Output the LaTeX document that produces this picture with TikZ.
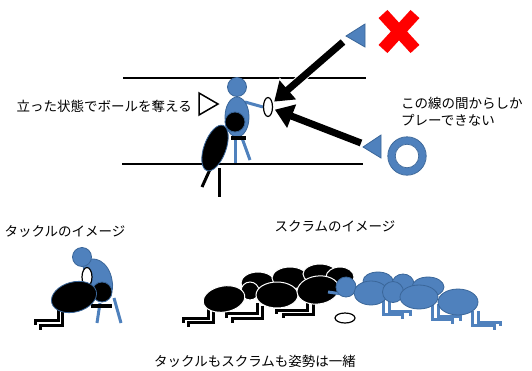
\documentclass[tikz,border=0pt]{standalone}
\usepackage{fontspec}
\newfontfamily\jp{Noto Sans CJK JP}
\usepackage{tikz}
\usetikzlibrary{arrows.meta,shapes.geometric,positioning}

\definecolor{pblue}{HTML}{4F81BD}
\definecolor{pedge}{HTML}{3A6699}

\tikzset{
  jptext/.style={font=\jp\fontsize{13.5}{17}\selectfont, inner sep=0pt},
  bluebody/.style={fill=pblue, draw=pedge, line width=0.8pt},
  blackbody/.style={fill=black, draw=white, line width=1pt},
  bluelimb/.style={draw=pblue, line width=3pt},
  blacklimb/.style={draw=black, line width=3pt, preaction={draw=white, line width=5pt}},
  bigarrow/.style={draw=black, line width=7pt, shorten >=2pt,
    -{Triangle[length=18pt 0 0,width=24pt 0 0]}},
  ballshape/.style={ellipse, draw=black, fill=white, line width=1.2pt, inner sep=0pt}
}

\begin{document}
\begin{tikzpicture}[x=1pt, y=-1pt]
    \useasboundingbox (0,0) rectangle (532,370);

    % the two touch lines
    \draw[line width=1.2pt] (123,78) -- (366,78);
    \draw[line width=1.2pt] (122,164) -- (363,164);

    % the texts
    \node[jptext, anchor=east] (standing) at (192,106) {立った状態でボールを奪える};
    \node[jptext, anchor=west, align=left] (between) at (401,112) {この線の間からしか\\プレーできない};
    \node[jptext] (tackletitle) at (65,232) {タックルのイメージ};
    \node[jptext] (scrumtitle) at (335,226) {スクラムのイメージ};
    \node[jptext] (same) at (255,361) {タックルもスクラムも姿勢は一緒};

    % pointer in front of the text
    \draw[line width=1.5pt, fill=white] (199,93) -- (199,115) -- (218,104) -- cycle;

    % standing player with the ball
    \draw[bluelimb] (235,140) -- (235,163);
    \draw[bluelimb] (242,138) -- (250,160);
    \draw[bluelimb] (245,102) -- (263,107);
    \filldraw[bluebody] (237,87) circle (9.5);
    \filldraw[bluebody] (237,117) ellipse [x radius=12, y radius=20];
    \node[ballshape, minimum width=9pt, minimum height=19pt] (ball) at (268,107) {};

    % the tackler
    \draw[black, line width=3.5pt] (231,138) -- (246,138);
    \filldraw[fill=black, draw=pedge, line width=0.8pt] (235,122) circle (10);
    \draw[black, line width=3pt] (212,165) -- (202,187);
    \draw[black, line width=3pt] (219,168) -- (219,197);
    \filldraw[fill=black, draw=pedge, line width=0.8pt, rotate around={-20:(215,148)}]
        (215,148) ellipse [x radius=11, y radius=24];

    % wrong and right way in
    \filldraw[bluebody] (365,24) -- (365,47) -- (346,36) -- cycle;
    \filldraw[bluebody] (381,135) -- (381,158) -- (363,147) -- cycle;
    \coordinate (wrong) at (343,42);
    \coordinate (right) at (361,143);
    \draw[bigarrow, preaction={draw=white, line width=9pt, shorten >=1pt,
        -{Triangle[length=21pt 0 0,width=28pt 0 0]}}] (wrong) -- (ball);
    \draw[bigarrow, preaction={draw=white, line width=9pt, shorten >=1pt,
        -{Triangle[length=21pt 0 0,width=28pt 0 0]}}] (right) -- (ball);
    \draw[red, line width=12pt] (383,14) -- (415,49) (415,14) -- (383,49);
    \draw[pblue, line width=7pt] (407,156) circle (15.5);
    \draw[pedge, line width=0.8pt] (407,156) circle (19.2) (407,156) circle (11.8);

    % tackle picture
    \draw[blacklimb] (58,306) -- (58,320) -- (35,320) -- (35,325);
    \draw[blacklimb] (62,309) -- (62,325) -- (40,325) -- (40,330);
    \draw[bluelimb] (100,303) -- (97,323);
    \draw[bluelimb] (114,298) -- (121,323);
    \filldraw[bluebody] (82,263) .. controls (94,253) and (109,262) .. (112,280)
        .. controls (115,294) and (107,302) .. (98,299) -- (87,281) -- cycle;
    \filldraw[bluebody] (82,257) circle (9.5);
    \node[ballshape, minimum width=10pt, minimum height=19pt] (tackleball) at (87,277) {};
    \filldraw[fill=black, draw=pedge, line width=0.8pt] (102,292) circle (10);
    \draw[black, line width=4pt] (91,306) -- (112,306);
    \filldraw[fill=black, draw=pedge, line width=0.8pt, rotate around={15:(74,297)}]
        (74,297) ellipse [x radius=23, y radius=15];

    % scrum picture, black pack
    \draw[blacklimb] (208,305) -- (208,318) -- (183,318) -- (183,323);
    \draw[blacklimb] (213,307) -- (213,322) -- (188,322) -- (188,327);
    \draw[blacklimb] (257,303) -- (257,313) -- (226,313) -- (226,318);
    \draw[blacklimb] (262,306) -- (262,318) -- (232,318) -- (232,323);
    \draw[blacklimb] (307,299) -- (307,310) -- (276,310) -- (276,314);
    \draw[blacklimb] (313,301) -- (313,314) -- (283,314) -- (283,318);
    \filldraw[blackbody] (258,283) ellipse [x radius=17, y radius=11];
    \filldraw[blackbody] (290,278) ellipse [x radius=18, y radius=11];
    \filldraw[blackbody] (320,274) ellipse [x radius=17, y radius=10];
    \filldraw[blackbody] (340,277) ellipse [x radius=14, y radius=10];
    \filldraw[blackbody] (250,291) circle (9);
    \filldraw[blackbody, rotate around={10:(224,299)}] (224,299) ellipse [x radius=21, y radius=13];
    \filldraw[blackbody] (277,295) ellipse [x radius=21, y radius=13];
    \filldraw[blackbody, rotate around={8:(318,290)}] (318,290) ellipse [x radius=21, y radius=14];
    \node[ballshape, minimum width=20pt, minimum height=10pt] (scrumball) at (345,318) {};

    % scrum picture, blue pack
    \draw[bluelimb] (383,299) -- (383,314) -- (402,314) -- (402,319);
    \draw[bluelimb] (389,299) -- (389,311) -- (410,311) -- (410,316);
    \draw[bluelimb] (432,304) -- (432,319) -- (452,319) -- (452,324);
    \draw[bluelimb] (438,304) -- (438,316) -- (460,316) -- (460,321);
    \draw[bluelimb] (472,311) -- (472,325) -- (494,325) -- (494,330);
    \draw[bluelimb] (478,311) -- (478,322) -- (500,322) -- (500,326);
    \draw[bluelimb] (328,292) -- (342,294);
    \filldraw[bluebody] (378,281) ellipse [x radius=15, y radius=9];
    \filldraw[bluebody] (403,284) ellipse [x radius=11, y radius=10];
    \filldraw[bluebody] (428,287) ellipse [x radius=16, y radius=10];
    \filldraw[bluebody] (346,287) circle (10);
    \filldraw[bluebody] (371,293) ellipse [x radius=17, y radius=12];
    \filldraw[bluebody] (393,292) circle (10.5);
    \filldraw[bluebody] (419,297) ellipse [x radius=19, y radius=12];
    \filldraw[bluebody] (458,302) ellipse [x radius=20, y radius=13];

\end{tikzpicture}
\end{document}
